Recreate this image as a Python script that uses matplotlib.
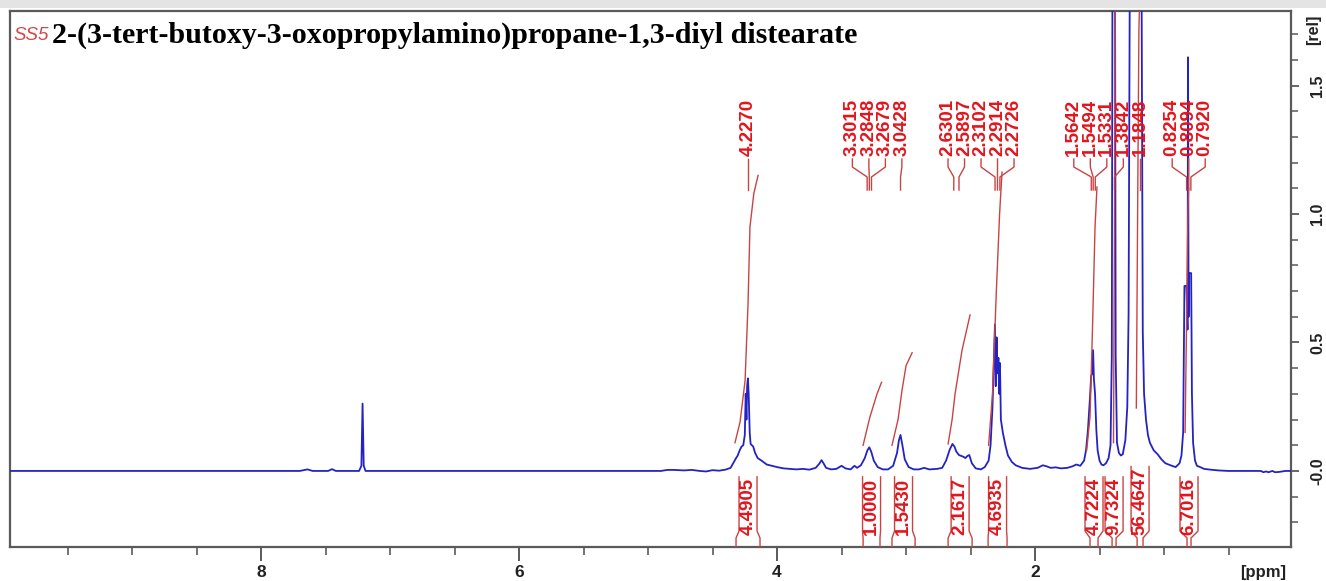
import matplotlib
matplotlib.use("Agg")
import matplotlib.pyplot as plt
from matplotlib.patches import Rectangle
from matplotlib.ticker import MultipleLocator, FixedLocator

# ---------------- data ----------------
title_tag = "SS5"
title_text = "2-(3-tert-butoxy-3-oxopropylamino)propane-1,3-diyl distearate"

# spectrum trace vertices (ppm, relative intensity)
spec_ppm = [9.95, 7.70, 7.64, 7.60, 7.48, 7.45, 7.42, 7.24, 7.222, 7.213, 7.204, 7.19,
            4.90, 4.85, 4.80, 4.72, 4.66, 4.60, 4.55, 4.50, 4.45, 4.40,
            4.36, 4.34, 4.32, 4.305, 4.29, 4.275, 4.262, 4.25, 4.243, 4.237, 4.232, 4.226, 4.22, 4.212,
            4.205, 4.195, 4.185, 4.17, 4.15, 4.12, 4.08, 4.04, 4.00, 3.95, 3.90, 3.85, 3.80, 3.75,
            3.70, 3.67, 3.655, 3.64, 3.62, 3.58, 3.54, 3.50, 3.47, 3.43, 3.40, 3.38, 3.35,
            3.32, 3.30, 3.285, 3.27, 3.25, 3.22, 3.18, 3.14, 3.10, 3.07, 3.055, 3.043, 3.03, 3.01,
            2.98, 2.94, 2.90, 2.86, 2.82, 2.76, 2.72, 2.69, 2.66, 2.64, 2.625, 2.61, 2.59, 2.57,
            2.555, 2.54, 2.525, 2.51, 2.49, 2.46, 2.42, 2.39, 2.36, 2.345, 2.33, 2.318, 2.311,
            2.305, 2.298, 2.291, 2.284, 2.278, 2.272, 2.265, 2.25, 2.23, 2.21, 2.18, 2.15, 2.10,
            2.04, 1.98, 1.94, 1.91, 1.88, 1.84, 1.80, 1.75, 1.71, 1.68, 1.65, 1.62, 1.605, 1.59,
            1.575, 1.565, 1.556, 1.55, 1.544, 1.535, 1.525, 1.515, 1.50, 1.485, 1.47, 1.45, 1.43,
            1.415, 1.405, 1.398, 1.39, 1.382, 1.375, 1.365, 1.35, 1.335, 1.32, 1.30, 1.285, 1.275,
            1.265, 1.25, 1.22, 1.19, 1.175, 1.165, 1.155, 1.14, 1.125, 1.11, 1.08, 1.05, 1.02,
            0.99, 0.95, 0.91, 0.88, 0.865, 0.852, 0.842, 0.838, 0.826, 0.818, 0.814, 0.81,
            0.806, 0.801, 0.79, 0.784, 0.775, 0.76, 0.745, 0.72, 0.69, 0.64, 0.58, 0.50, 0.40,
            0.30, 0.25, 0.23, 0.21, 0.19, 0.16, 0.14, 0.11, 0.06, 0.016]
spec_rel = [0.000, 0.000, 0.006, 0.000, 0.000, 0.007, 0.000, 0.000, 0.020, 0.262, 0.020, 0.000,
            0.000, 0.004, 0.004, 0.002, 0.004, 0.000, -0.002, 0.003, 0.001, 0.005,
            0.012, 0.030, 0.048, 0.060, 0.080, 0.095, 0.100, 0.140, 0.300, 0.200, 0.330, 0.360, 0.300, 0.150,
            0.105, 0.100, 0.095, 0.070, 0.050, 0.040, 0.025, 0.020, 0.015, 0.010, 0.008, 0.006, 0.008, 0.005,
            0.012, 0.030, 0.042, 0.030, 0.012, 0.006, 0.008, 0.020, 0.010, 0.006, 0.020, 0.012, 0.022,
            0.050, 0.080, 0.092, 0.075, 0.040, 0.015, 0.006, 0.006, 0.020, 0.070, 0.120, 0.140, 0.105, 0.045,
            0.015, 0.006, 0.006, 0.012, 0.006, 0.008, 0.012, 0.040, 0.085, 0.105, 0.095, 0.075, 0.062, 0.058,
            0.055, 0.050, 0.058, 0.062, 0.030, 0.010, 0.006, 0.015, 0.040, 0.100, 0.250, 0.450, 0.570,
            0.330, 0.520, 0.380, 0.440, 0.300, 0.420, 0.200, 0.150, 0.100, 0.060, 0.035, 0.022, 0.012,
            0.008, 0.012, 0.022, 0.018, 0.012, 0.014, 0.010, 0.012, 0.018, 0.025, 0.020, 0.040, 0.080, 0.160,
            0.280, 0.370, 0.380, 0.470, 0.360, 0.300, 0.160, 0.080, 0.040, 0.025, 0.022, 0.030, 0.050,
            0.100, 0.450, 2.500, 2.500, 2.500, 0.450, 0.110, 0.070, 0.060, 0.065, 0.120, 0.250, 0.610,
            2.000, 3.500, 3.500, 3.500, 2.000, 0.540, 0.300, 0.200, 0.140, 0.110, 0.080, 0.065, 0.045,
            0.030, 0.022, 0.015, 0.030, 0.060, 0.150, 0.720, 0.720, 0.720, 0.550, 1.610, 0.600,
            0.770, 0.770, 0.770, 0.300, 0.110, 0.040, 0.020, 0.015, 0.008, 0.005, 0.002, 0.000, 0.000,
            0.000, 0.000, -0.005, -0.002, -0.005, 0.000, -0.005, -0.004, 0.000, 0.000]

# integral traces (ppm, relative)
int_traces_ppm = [
    [4.326, 4.287, 4.248, 4.225, 4.21, 4.18, 4.147],
    [3.333, 3.28, 3.225, 3.19],
    [3.109, 3.062, 3.031, 3.0, 2.953],
    [2.674, 2.643, 2.62, 2.566, 2.504],
    [2.36, 2.33, 2.30, 2.275, 2.256],
    [1.60, 1.574, 1.555, 1.535, 1.52],
    [1.392, 1.385, 1.378],
    [1.215, 1.205, 1.195, 1.185],
    [0.837, 0.825, 0.815, 0.81],
]
int_traces_rel = [
    [0.11, 0.19, 0.35, 0.65, 0.95, 1.08, 1.15],
    [0.10, 0.21, 0.30, 0.345],
    [0.10, 0.20, 0.315, 0.41, 0.46],
    [0.105, 0.20, 0.30, 0.47, 0.607],
    [0.10, 0.30, 0.70, 1.00, 1.163],
    [0.08, 0.21, 0.55, 0.95, 1.105],
    [0.11, 0.90, 1.85],
    [0.245, 1.00, 1.72, 1.90],
    [0.15, 0.60, 1.00, 1.10],
]

# peak picking labels (ppm)
peak_labels = ["4.2270", "3.3015", "3.2848", "3.2679", "3.0428", "2.6301", "2.5897",
               "2.3102", "2.2914", "2.2726", "1.5642", "1.5494", "1.5331", "1.3842",
               "1.1848", "0.8254", "0.8094", "0.7920"]

# integral regions (start ppm, end ppm) and values
int_start = [4.318, 3.333, 3.109, 2.674, 2.364, 1.574, 1.403, 1.209, 0.822]
int_end = [4.132, 3.202, 2.930, 2.488, 2.217, 1.512, 1.372, 1.163, 0.791]
int_values = ["4.4905", "1.0000", "1.5430", "2.1617", "4.6935", "4.7224", "9.7324",
              "56.4647", "6.7016"]

x_major = [8, 6, 4, 2]
y_major = [0.0, 0.5, 1.0, 1.5]
y_major_labels = ["-0.0", "0.5", "1.0", "1.5"]

# ---------------- styling ----------------
BLUE = "#2323c4"
RED_TXT = "#e3141c"
RED_LN = "#c84444"
FRAME = "#5a5a5a"
SANS = "Liberation Sans"
SERIF = "Liberation Serif"

W, H = 1326, 581
fig = plt.figure(figsize=(W / 100, H / 100), dpi=100)
fig.patches.append(Rectangle((0, 1 - 8 / H), 1, 8 / H, transform=fig.transFigure,
                             facecolor="#e4e4e4", edgecolor="none"))

ax = fig.add_axes([10 / W, 34 / H, 1281 / W, 536 / H])
XL, XR = 9.946, 0.016
YB, YT = -0.296, 1.79
ax.set_xlim(XL, XR)
ax.set_ylim(YB, YT)
ppm_per_px = (XL - XR) / 1281.0
rel_per_px = (YT - YB) / 536.0

for s in ax.spines.values():
    s.set_color(FRAME)
    s.set_linewidth(1.6)

ax.plot(spec_ppm, spec_rel, color=BLUE, lw=1.3, zorder=3, clip_on=True)

for xs, ys in zip(int_traces_ppm, int_traces_rel):
    ax.plot(xs, ys, color=RED_LN, lw=1.0, zorder=4)

# ticks
ax.xaxis.set_major_locator(FixedLocator(x_major))
ax.xaxis.set_minor_locator(MultipleLocator(0.5))
ax.set_xticklabels([str(v) for v in x_major])
ax.tick_params(axis="x", which="major", length=10, width=1.4, color=FRAME, pad=3,
               labelsize=12.5)
ax.tick_params(axis="x", which="minor", length=6, width=1.2, color=FRAME)
for t in ax.get_xticklabels():
    t.set_fontfamily(SANS)
    t.set_fontweight("bold")
    t.set_color("#222222")

ax.yaxis.tick_right()
ax.yaxis.set_major_locator(FixedLocator(y_major))
ax.yaxis.set_minor_locator(MultipleLocator(0.1))
ax.set_yticklabels(y_major_labels)
ax.tick_params(axis="y", which="major", length=6, width=1.3, color=FRAME, pad=8,
               labelsize=11.5, labelrotation=90)
ax.tick_params(axis="y", which="minor", length=5, width=1.1, color=FRAME)
for t in ax.get_yticklabels():
    t.set_fontfamily(SANS)
    t.set_fontweight("bold")
    t.set_color("#222222")
    t.set_verticalalignment("center")

fig.text(1314 / W, 1 - 30 / H, "[rel]", rotation=90, ha="center", va="center",
         fontfamily=SANS, fontweight="bold", fontsize=11.5, color="#222222")
fig.text(1263 / W, 1 - 572 / H, "[ppm]", ha="center", va="center",
         fontfamily=SANS, fontweight="bold", fontsize=12, color="#222222")

# title
fig.text(13 / W, 1 - 35 / H, title_tag, ha="left", va="center", fontfamily=SANS,
         fontstyle="italic", fontsize=13.5, color="#d04848")
ttl = fig.text(52 / W, 1 - 35 / H, title_text, ha="left", va="center",
               fontfamily=SERIF, fontweight="bold", fontsize=20, color="black")
fig.canvas.draw()
r = fig.canvas.get_renderer()
bb = ttl.get_window_extent(r)
ttl.set_fontsize(20 * 806.0 / bb.width)

# ---------------- peak labels with spread-out connectors ----------------
targets = [float(v) for v in peak_labels]
sep = 16.5 * ppm_per_px
groups = [[i] for i in range(len(targets))]


def positions(g):
    c = sum(targets[i] for i in g) / len(g)
    n = len(g)
    return [c + sep * ((n - 1) / 2.0 - k) for k in range(n)]


changed = True
while changed:
    changed = False
    for gi in range(len(groups) - 1):
        a = positions(groups[gi])
        b = positions(groups[gi + 1])
        if a[-1] - b[0] < sep - 1e-9:
            groups[gi] = groups[gi] + groups[gi + 1]
            del groups[gi + 1]
            changed = True
            break

lab_pos = {}
for g in groups:
    for i, p in zip(g, positions(g)):
        lab_pos[i] = p


def ypx(px_from_top):
    return YT - (px_from_top - 11) * rel_per_px


for i, txt in enumerate(peak_labels):
    lx = lab_pos[i]
    tx = targets[i]
    ax.plot([lx, lx, tx, tx], [ypx(159), ypx(167), ypx(177), ypx(190)],
            color=RED_LN, lw=1.0, zorder=5, clip_on=False)
    ax.text(lx, ypx(156), txt, rotation=90, ha="center", va="bottom",
            fontfamily=SANS, fontweight="bold", fontsize=13.5, color=RED_TXT, zorder=6)

# ---------------- integral labels ----------------
half = 9.0 * ppm_per_px
for s0, s1, val in zip(int_start, int_end, int_values):
    c = (s0 + s1) / 2.0
    t = ax.text(c, ypx(535), val, rotation=90, ha="center", va="bottom",
                fontfamily=SANS, fontweight="bold", fontsize=13.5, color=RED_TXT, zorder=6)
    bbt = t.get_window_extent(r)
    top_y = ax.transData.inverted().transform((0, bbt.y1 + 1))[1]
    left = c + half
    right = c - half
    ax.plot([left, left, s0, s0], [top_y, ypx(531), ypx(538), YB],
            color=RED_LN, lw=1.0, zorder=5)
    ax.plot([right, right, s1, s1], [top_y, ypx(531), ypx(538), YB],
            color=RED_LN, lw=1.0, zorder=5)

fig.savefig("out.png", dpi=100)
